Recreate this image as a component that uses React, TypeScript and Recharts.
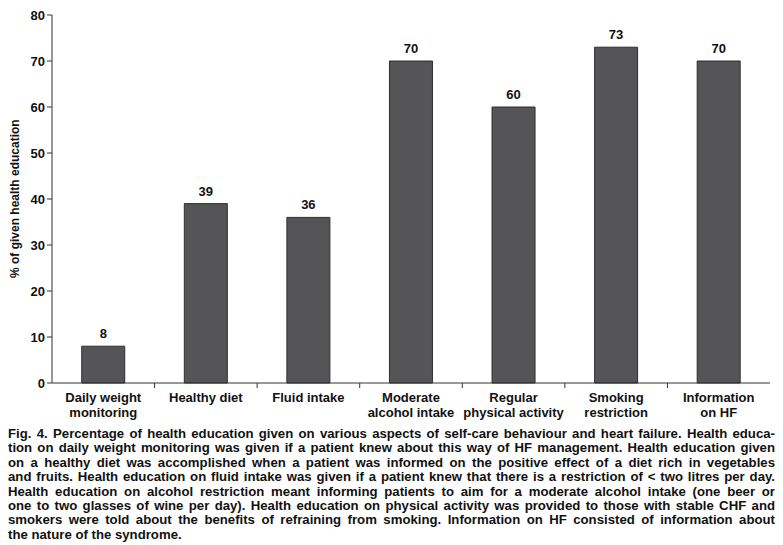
import { BarChart, Bar, XAxis, YAxis, LabelList } from "recharts";

const categories = [
  "Daily weight|monitoring",
  "Healthy diet",
  "Fluid intake",
  "Moderate|alcohol intake",
  "Regular|physical activity",
  "Smoking|restriction",
  "Information|on HF",
];
const values = [8, 39, 36, 70, 60, 73, 70];
const yTicks = [0, 10, 20, 30, 40, 50, 60, 70, 80];

const captionLines = [
  "Fig. 4. Percentage of health education given on various aspects of self-care behaviour and heart failure. Health educa-",
  "tion on daily weight monitoring was given if a patient knew about this way of HF management. Health education given",
  "on a healthy diet was accomplished when a patient was informed on the positive effect of a diet rich in vegetables",
  "and fruits. Health education on fluid intake was given if a patient knew that there is a restriction of < two litres per day.",
  "Health education on alcohol restriction meant informing patients to aim for a moderate alcohol intake (one beer or",
  "one to two glasses of wine per day). Health education on physical activity was provided to those with stable CHF and",
  "smokers were told about the benefits of refraining from smoking. Information on HF consisted of information about",
  "the nature of the syndrome.",
];

const data = categories.map((c, i) => ({ name: c, value: values[i] }));

const W = 783;
const LEFT = 52;
const RIGHT = 13;
const band = (W - LEFT - RIGHT) / categories.length;
const FONT = "Liberation Sans, Arial, sans-serif";
const SX = 0.97;

const XTick = (props: any) => {
  const { x, y, payload, index } = props;
  const lines = String(payload.value).split("|");
  return (
    <g>
      {index < categories.length - 1 && (
        <line x1={x + band / 2} x2={x + band / 2} y1={y - 8} y2={y - 3} stroke="#333" />
      )}
      <text x={x} y={y + 11} textAnchor="middle" fontSize={13} fontWeight="bold" fill="#111" fontFamily={FONT}>
        {lines.map((l: string, i: number) => (
          <tspan key={i} x={x} dy={i === 0 ? 0 : 15}>
            {l}
          </tspan>
        ))}
      </text>
    </g>
  );
};

export default function App() {
  return (
    <div style={{ position: "absolute", left: 0, top: 0, width: W, height: 545, background: "#fff", overflow: "hidden" }}>
      <BarChart
        width={W}
        height={425}
        data={data}
        margin={{ top: 15, right: RIGHT, left: 0, bottom: 0 }}
        barCategoryGap="29%"
      >
        <XAxis
          dataKey="name"
          tick={<XTick />}
          tickLine={false}
          axisLine={{ stroke: "#333" }}
          interval={0}
          height={42}
        />
        <YAxis
          domain={[0, 80]}
          ticks={yTicks}
          width={LEFT}
          axisLine={{ stroke: "#333" }}
          tickLine={{ stroke: "#333" }}
          tickSize={5}
          tick={{ fontSize: 13, fontWeight: "bold", fill: "#111", fontFamily: FONT }}
          label={{
            value: "% of given health education",
            angle: -90,
            position: "insideLeft",
            dx: 10,
            dy: 79,
            style: { fontSize: 12, fontWeight: "bold", fill: "#111", fontFamily: FONT },
          }}
        />
        <Bar dataKey="value" fill="#555557" stroke="#2e2e2e" strokeWidth={1} isAnimationActive={false}>
          <LabelList
            dataKey="value"
            position="top"
            offset={8}
            style={{ fontSize: 13, fontWeight: "bold", fill: "#111", fontFamily: FONT }}
          />
        </Bar>
      </BarChart>
      <div
        style={{
          position: "absolute",
          left: 8,
          top: 427,
          width: 767 / SX,
          transform: `scaleX(${SX})`,
          transformOrigin: "0 0",
          fontFamily: FONT,
          fontWeight: "bold",
          fontSize: 13.6,
          lineHeight: "14.4px",
          color: "#111",
        }}
      >
        {captionLines.map((l, i) => (
          <div
            key={i}
            style={{
              whiteSpace: "nowrap",
              textAlign: i === captionLines.length - 1 ? "left" : "justify",
              textAlignLast: i === captionLines.length - 1 ? "left" : "justify",
            }}
          >
            {l}
          </div>
        ))}
      </div>
    </div>
  );
}
